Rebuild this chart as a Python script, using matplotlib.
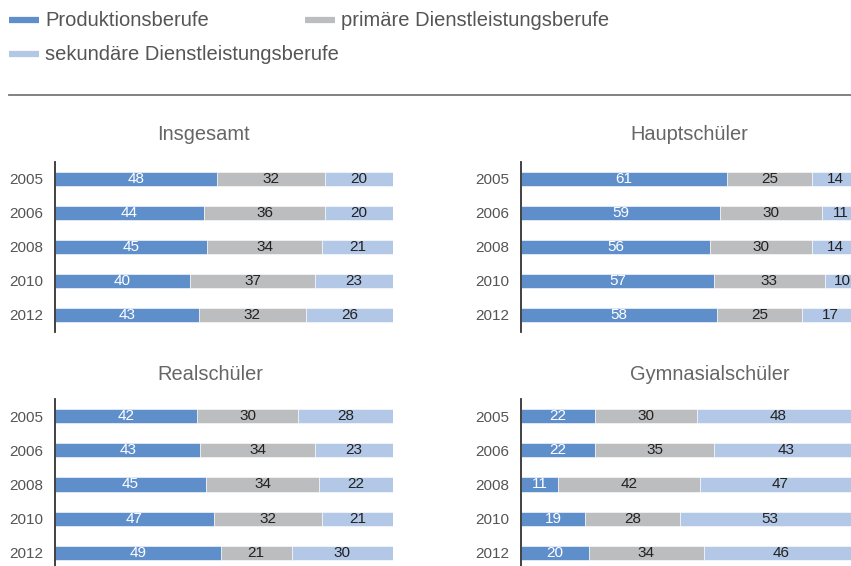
import numpy as np
import matplotlib
matplotlib.use('Agg')
import matplotlib.pyplot as plt
from matplotlib.lines import Line2D

plt.rcParams['font.family'] = ['Liberation Sans', 'DejaVu Sans']

years = ['2005', '2006', '2008', '2010', '2012']
series = ['Produktionsberufe', 'primäre Dienstleistungsberufe', 'sekundäre Dienstleistungsberufe']

insgesamt_prod = [48, 44, 45, 40, 43]
insgesamt_prim = [32, 36, 34, 37, 32]
insgesamt_sek = [20, 20, 21, 23, 26]

haupt_prod = [61, 59, 56, 57, 58]
haupt_prim = [25, 30, 30, 33, 25]
haupt_sek = [14, 11, 14, 10, 17]

real_prod = [42, 43, 45, 47, 49]
real_prim = [30, 34, 34, 32, 21]
real_sek = [28, 23, 22, 21, 30]

gym_prod = [22, 22, 11, 19, 20]
gym_prim = [30, 35, 42, 28, 34]
gym_sek = [48, 43, 47, 53, 46]

colors = ['#5f8fcb', '#bcbdbf', '#b3c7e7']
text_colors = ['white', '#222222', '#222222']
W, H = 851, 566

fig = plt.figure(figsize=(W / 100, H / 100), dpi=100)


def px_box(x0, y0, x1, y1):
    return [x0 / W, 1 - y1 / H, (x1 - x0) / W, (y1 - y0) / H]


def panel(rect, title, title_x, title_y, prod, prim, sek):
    ax = fig.add_axes(px_box(*rect))
    data = np.array([prod, prim, sek], dtype=float)
    widths = data / data.sum(axis=0) * 100
    pos = np.arange(len(years))
    left = np.zeros(len(years))
    for i in range(3):
        ax.barh(pos, widths[i], 0.41, left=left, color=colors[i], edgecolor='white', linewidth=0.4)
        for j in range(len(years)):
            ax.text(left[j] + widths[i][j] / 2, pos[j], str(int(data[i][j])),
                    ha='center', va='center', fontsize=11, color=text_colors[i])
        left += widths[i]
    ax.set_xlim(0, 100)
    ax.set_ylim(len(years) - 0.5, -0.5)
    ax.set_yticks(pos)
    ax.set_yticklabels(years, fontsize=11, color='#555555', ha='left')
    ax.tick_params(axis='y', length=0, pad=33)
    ax.set_xticks([])
    for s in ['top', 'right', 'bottom']:
        ax.spines[s].set_visible(False)
    ax.spines['left'].set_color('#333333')
    ax.spines['left'].set_linewidth(1.3)
    fig.text(title_x / W, 1 - title_y / H, title, fontsize=14.4, color='#666666', ha='left', va='center')
    return ax


panel((55, 162, 393, 332), 'Insgesamt', 157, 135, insgesamt_prod, insgesamt_prim, insgesamt_sek)
panel((521, 162, 859, 332), 'Hauptschüler', 630, 135, haupt_prod, haupt_prim, haupt_sek)
panel((55, 399, 393, 570), 'Realschüler', 157, 374, real_prod, real_prim, real_sek)
panel((521, 399, 859, 570), 'Gymnasialschüler', 630, 374, gym_prod, gym_prim, gym_sek)

# legend drawn by hand so the items sit like in the original
legend_pos = [(9, 20), (305, 20), (9, 54)]
for (x, y), label, c in zip(legend_pos, series, colors):
    fig.add_artist(Line2D([x / W, (x + 30) / W], [1 - y / H, 1 - y / H], color=c, linewidth=4.5,
                          solid_capstyle='butt'))
    fig.text((x + 36) / W, 1 - y / H, label, fontsize=14.5, color='#555555', ha='left', va='center')

fig.add_artist(Line2D([9 / W, 1.0], [1 - 95 / H, 1 - 95 / H], color='#777777', linewidth=1.3))

fig.savefig('out.png', dpi=100)
